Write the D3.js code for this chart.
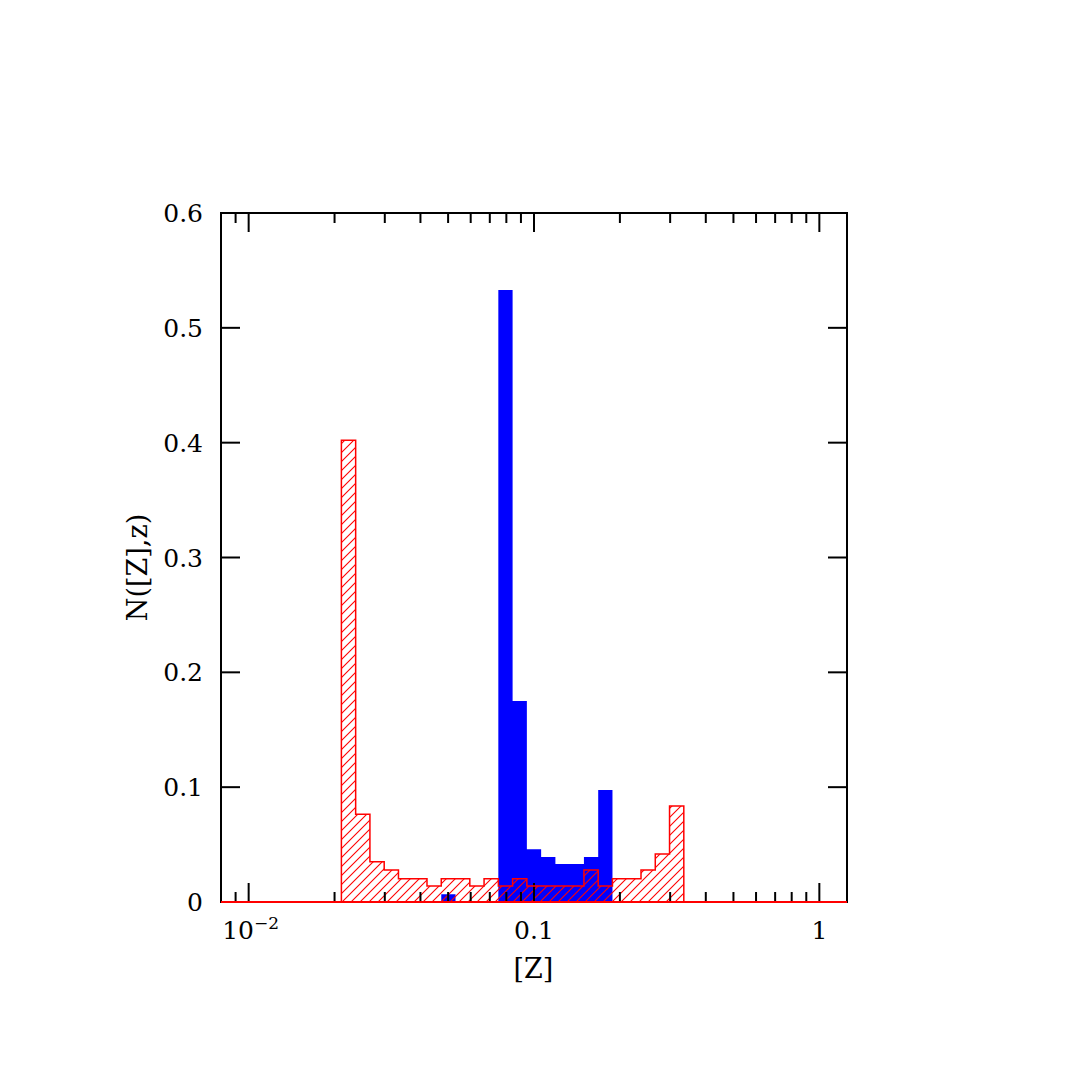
<!DOCTYPE html>
<html>
<head>
<meta charset="utf-8">
<script src="https://cdn.jsdelivr.net/npm/d3@7"></script>
<style>
    body { margin: 0; background: #fff; }
    text { font-family: "DejaVu Serif", serif; fill: #000; }
    .tick-label { font-size: 25px; }
    .axis-title { font-size: 27px; }
    .frame { fill: none; stroke: #000; stroke-width: 2; }
    .tick { stroke: #000; stroke-width: 2; }
    .blue-area { fill: #0000ff; }
    .red-area { fill: url(#hatch); }
    .red-line { fill: none; stroke: #ff0000; stroke-width: 1.5; }
</style>
</head>
<body>
<div id="chart"></div>
<script>
//////////////////////////////////////////////////////////////
//////////////////////// Data ////////////////////////////////
//////////////////////////////////////////////////////////////

//bin edges in log10([Z])
const binEdges = [-1.675, -1.625, -1.575, -1.525, -1.475, -1.425, -1.375, -1.325, -1.275, -1.225,
    -1.175, -1.125, -1.075, -1.025, -0.975, -0.925, -0.875, -0.825, -0.775, -0.725,
    -0.675, -0.625, -0.575, -0.525, -0.475]

//normalised counts per bin (one value per bin)
const redValues = [0.402, 0.0764, 0.0351, 0.0279, 0.0203, 0.0203, 0.0139, 0.0203, 0.0203, 0.0139,
    0.0203, 0.0139, 0.0203, 0.0139, 0.0139, 0.0139, 0.0139, 0.0279, 0.0139, 0.0203,
    0.0203, 0.0279, 0.0418, 0.0836]
const blueValues = [0, 0, 0, 0, 0, 0, 0, 0.0067, 0, 0,
    0, 0.533, 0.175, 0.0459, 0.0392, 0.0331, 0.0331, 0.0392, 0.0976, 0,
    0, 0, 0, 0]

const xMajorTicks = [0.01, 0.1, 1]
const xTickLabels = ["10", "0.1", "1"]
const yTickValues = [0, 0.1, 0.2, 0.3, 0.4, 0.5, 0.6]

//////////////////////////////////////////////////////////////
//////////////////////// Create SVG //////////////////////////
//////////////////////////////////////////////////////////////

const W = 1090, H = 1090
const margin = { left: 221, top: 213, right: 243, bottom: 188 }
const width = W - margin.left - margin.right
const height = H - margin.top - margin.bottom
const majorLen = 19
const minorLen = 10

const svg = d3.select("#chart").append("svg")
    .attr("width", W)
    .attr("height", H)
    .append("g")
    .attr("transform", "translate(" + [margin.left, margin.top] + ")")

//////////////////////////////////////////////////////////////
////////////////////// Create scales /////////////////////////
//////////////////////////////////////////////////////////////

const xScale = d3.scaleLog()
    .domain([0.008, 1.25])
    .range([0, width])

const yScale = d3.scaleLinear()
    .domain([0, 0.6])
    .range([height, 0])

const bins = redValues.map((d, i) => ({
    lo: Math.pow(10, binEdges[i]),
    hi: Math.pow(10, binEdges[i + 1]),
    red: d,
    blue: blueValues[i]
}))
const last = bins[bins.length - 1]

const area = d3.area()
    .curve(d3.curveStepAfter)
    .x(d => xScale(d[0]))
    .y0(yScale(0))
    .y1(d => yScale(d[1]))

//////////////////////////////////////////////////////////////
///////////////////////// Hatch //////////////////////////////
//////////////////////////////////////////////////////////////

const defs = svg.append("defs")
const hatch = defs.append("pattern")
    .attr("id", "hatch")
    .attr("patternUnits", "userSpaceOnUse")
    .attr("width", 9)
    .attr("height", 9)
hatch.append("path")
    .attr("d", "M-1,1 L1,-1 M0,9 L9,0 M8,10 L10,8")
    .style("stroke", "#ff0000")
    .style("stroke-width", 1.1)

//////////////////////////////////////////////////////////////
/////////////////////// Blue histogram ///////////////////////
//////////////////////////////////////////////////////////////

const bluePoints = bins.map(d => [d.lo, d.blue])
bluePoints.push([last.hi, last.blue])

svg.append("path")
    .attr("class", "blue-area")
    .attr("d", area(bluePoints))

//////////////////////////////////////////////////////////////
///////////////////// Red hatched area ///////////////////////
//////////////////////////////////////////////////////////////

const stepPoints = bins.map(d => [d.lo, d.red])
stepPoints.push([last.hi, last.red])

svg.append("path")
    .attr("class", "red-area")
    .attr("d", area(stepPoints))

//////////////////////////////////////////////////////////////
////////////////////// Frame and ticks ///////////////////////
//////////////////////////////////////////////////////////////

svg.append("rect")
    .attr("class", "frame")
    .attr("width", width)
    .attr("height", height)

const ticks = svg.append("g").attr("class", "tick-group")

const xAll = xScale.ticks().filter(d => d > xScale.domain()[0] * 1.001)
xAll.forEach(t => {
    const major = xMajorTicks.some(m => Math.abs(m - t) / m < 1e-6)
    const len = major ? majorLen : minorLen
    const x = xScale(t)
    ticks.append("line").attr("class", "tick")
        .attr("x1", x).attr("x2", x).attr("y1", height).attr("y2", height - len)
    ticks.append("line").attr("class", "tick")
        .attr("x1", x).attr("x2", x).attr("y1", 0).attr("y2", len)
})

yTickValues.forEach(t => {
    const y = yScale(t)
    ticks.append("line").attr("class", "tick")
        .attr("x1", 0).attr("x2", majorLen).attr("y1", y).attr("y2", y)
    ticks.append("line").attr("class", "tick")
        .attr("x1", width).attr("x2", width - majorLen).attr("y1", y).attr("y2", y)
    svg.append("text")
        .attr("class", "tick-label")
        .attr("x", -18)
        .attr("y", y + 9)
        .attr("text-anchor", "end")
        .text(d3.format("")(t))
})

xMajorTicks.forEach((t, i) => {
    const label = svg.append("text")
        .attr("class", "tick-label")
        .attr("x", xScale(t) + (i === 0 ? 2 : 0))
        .attr("y", height + 37)
        .attr("text-anchor", "middle")
        .text(xTickLabels[i])
    if (i === 0) {
        label.append("tspan")
            .attr("dy", -10)
            .style("font-size", "17px")
            .text("\u22122")
    }
})

//////////////////////////////////////////////////////////////
////////////////////// Red outline ///////////////////////////
//////////////////////////////////////////////////////////////

const outline = [[xScale.domain()[0], 0]].concat(stepPoints)
outline.push([last.hi, 0])
outline.push([xScale.domain()[1], 0])

const line = d3.line()
    .curve(d3.curveStepAfter)
    .x(d => xScale(d[0]))
    .y(d => yScale(d[1]))

svg.append("path")
    .attr("class", "red-line")
    .attr("d", line(outline))

svg.append("line")
    .attr("x1", 0).attr("x2", width)
    .attr("y1", height).attr("y2", height)
    .style("stroke", "#ff0000")
    .style("stroke-width", 2)

//////////////////////////////////////////////////////////////
//////////////////////// Axis titles /////////////////////////
//////////////////////////////////////////////////////////////

svg.append("text")
    .attr("class", "axis-title")
    .attr("x", width / 2 - 0.5)
    .attr("y", height + 76)
    .attr("text-anchor", "middle")
    .text("[Z]")

svg.append("text")
    .attr("class", "axis-title")
    .attr("transform", "translate(" + [-74, height / 2 + 10] + ") rotate(-90)")
    .attr("text-anchor", "middle")
    .text("N([Z],z)")
</script>
</body>
</html>
